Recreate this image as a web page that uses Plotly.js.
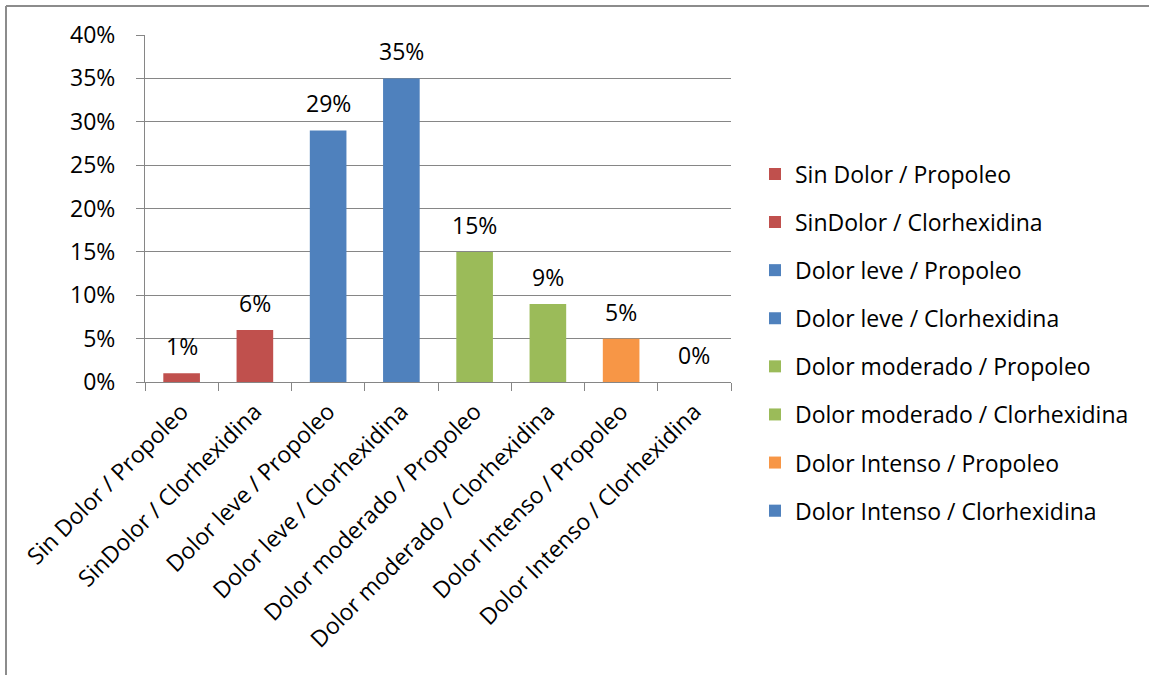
<!DOCTYPE html>
<html>
<head>
<meta charset="utf-8">
<script src="https://cdn.plot.ly/plotly-3.0.1.min.js"></script>
<style>
html,body{margin:0;padding:0;background:#fff;}
#chart{width:1149px;height:675px;}
</style>
</head>
<body>
<div id="chart"></div>
<script>
const categories = [
  "Sin Dolor / Propoleo",
  "SinDolor / Clorhexidina",
  "Dolor leve / Propoleo",
  "Dolor leve / Clorhexidina",
  "Dolor moderado / Propoleo",
  "Dolor moderado / Clorhexidina",
  "Dolor Intenso / Propoleo",
  "Dolor Intenso / Clorhexidina"
];
const values = [0.01, 0.06, 0.29, 0.35, 0.15, 0.09, 0.05, 0.00];
const labels = ["1%", "6%", "29%", "35%", "15%", "9%", "5%", "0%"];
const colors = ["#C0504D", "#C0504D", "#4F81BD", "#4F81BD", "#9BBB59", "#9BBB59", "#F79646", "#4F81BD"];
const yTickVals = [0, 0.05, 0.10, 0.15, 0.20, 0.25, 0.30, 0.35, 0.40];
const yTickText = ["0%", "5%", "10%", "15%", "20%", "25%", "30%", "35%", "40%"];

const FONT = "'Open Sans', Lato, sans-serif";
const FS = 23;
const W = 1149, H = 675;
const m = {l: 145, r: 418, t: 35, b: 293};
const pw = W - m.l - m.r, ph = H - m.t - m.b;
const px2x = p => (p - m.l) / pw;
const py2y = p => 1 - (p - m.t) / ph;

const traces = categories.map((c, i) => ({
  type: "bar",
  name: c,
  x: [c],
  y: [values[i]],
  marker: {color: colors[i]},
  legendgroup: "g" + i,
  hoverinfo: "x+y"
}));

const annotations = categories.map((c, i) => ({
  x: c, y: values[i], xref: "x", yref: "y",
  text: labels[i], showarrow: false,
  yanchor: "middle", yshift: 27,
  font: {family: FONT, size: FS, color: "#000"}
}));

const layout = {
  width: W, height: H,
  margin: m,
  paper_bgcolor: "#fff", plot_bgcolor: "#fff",
  barmode: "overlay",
  bargap: 0.5,
  font: {family: FONT, size: FS, color: "#000"},
  showlegend: true,
  legend: {
    x: px2x(755), y: py2y(152.5), xanchor: "left", yanchor: "top",
    font: {family: FONT, size: FS, color: "#000"},
    traceorder: "grouped", tracegroupgap: 15.2,
    maxheight: 600,
    bgcolor: "rgba(0,0,0,0)"
  },
  xaxis: {
    type: "category",
    categoryorder: "array", categoryarray: categories,
    showline: true, linecolor: "#868686", linewidth: 1,
    ticks: "outside", tickson: "boundaries", ticklen: 8, tickcolor: "#868686",
    tickangle: -45,
    ticklabelstandoff: 6,
    showgrid: false,
    tickfont: {family: FONT, size: FS, color: "#000"}
  },
  yaxis: {
    range: [0, 0.4],
    tickvals: yTickVals, ticktext: yTickText,
    showline: true, linecolor: "#868686", linewidth: 1,
    ticks: "outside", ticklen: 8, tickcolor: "#868686",
    showgrid: true, gridcolor: "#868686", gridwidth: 1,
    zeroline: false,
    ticklabelstandoff: 16,
    tickfont: {family: FONT, size: FS, color: "#000"}
  },
  annotations: annotations,
  shapes: [
    {type: "line", xref: "paper", yref: "paper", x0: px2x(6), x1: px2x(1160), y0: py2y(6), y1: py2y(6), line: {color: "#8c8c8c", width: 2}},
    {type: "line", xref: "paper", yref: "paper", x0: px2x(6), x1: px2x(6), y0: py2y(6), y1: py2y(690), line: {color: "#8c8c8c", width: 2}}
  ]
};

Plotly.newPlot("chart", traces, layout, {displayModeBar: false, staticPlot: true});
</script>
</body>
</html>
